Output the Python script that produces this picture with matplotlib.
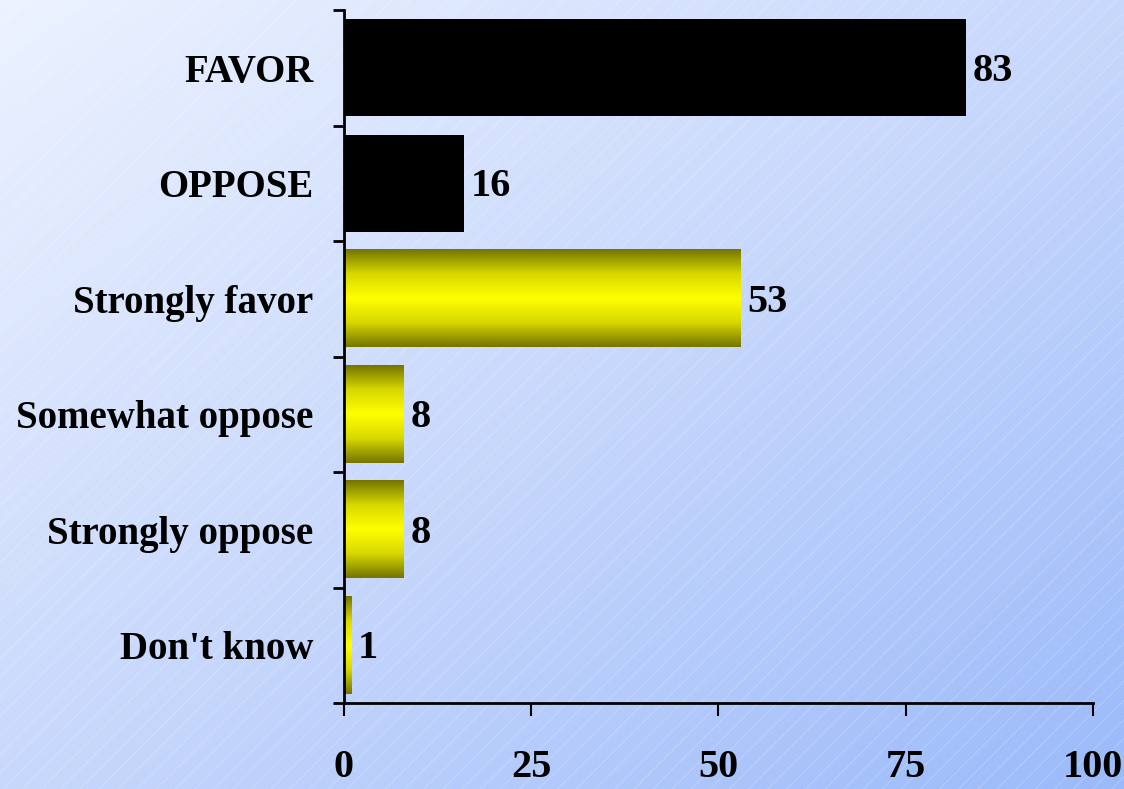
import numpy as np
import matplotlib
matplotlib.use("Agg")
import matplotlib.pyplot as plt
from matplotlib.colors import LinearSegmentedColormap

categories = ["FAVOR", "OPPOSE", "Strongly favor", "Somewhat oppose", "Strongly oppose", "Don't know"]
values = [83, 16, 53, 8, 8, 1]
solid = [True, True, False, False, False, False]
xticks = [0, 25, 50, 75, 100]

plt.rcParams['font.family'] = ['Liberation Serif', 'DejaVu Serif']
plt.rcParams['font.weight'] = 'bold'

fig = plt.figure(figsize=(11.24, 7.89), dpi=100)

# background gradient with faint diagonal stripes
bg = fig.add_axes([0, 0, 1, 1], zorder=-10)
bg.set_axis_off()
gx, gy = np.meshgrid(np.linspace(0, 1, 300), np.linspace(0, 1, 300))
t = (gx + gy) / 2
bg_cmap = LinearSegmentedColormap.from_list("bg", ["#ecf2ff", "#c8d8fc", "#9bbafa"])
bg.imshow(t, cmap=bg_cmap, extent=[0, 1, 0, 1], origin="upper", aspect="auto")
for k in np.arange(-1, 2, 0.017):
    bg.plot([k, k + 1], [0, 1.424], color="white", lw=0.6, alpha=0.25)
bg.set_xlim(0, 1)
bg.set_ylim(0, 1)

ax = fig.add_axes([0.306, 0.109, 0.6664, 0.8783])
ax.patch.set_alpha(0)

bar_cmap = LinearSegmentedColormap.from_list("bar", ["#767600", "#d8d800", "#ffff00", "#d8d800", "#767600"])
grad = np.linspace(0, 1, 100).reshape(-1, 1)
h = 0.84
for i, (v, s) in enumerate(zip(values, solid)):
    if s:
        ax.barh(i, v, height=h, color="black", zorder=2)
    else:
        ax.imshow(grad, cmap=bar_cmap, aspect="auto",
                  extent=[0, v, i + h / 2, i - h / 2], zorder=2)
    ax.text(v + 0.9, i + 0.03, str(v), va="center", ha="left",
            fontsize=29, fontweight="bold")

ax.set_xlim(0, 100)
ax.set_ylim(len(categories) - 0.5, -0.5)

ax.set_yticks(range(len(categories)))
ax.set_yticklabels(categories, fontsize=28, fontweight="bold")
ax.set_yticks(np.arange(-0.5, len(categories), 1), minor=True)
ax.tick_params(axis="y", which="major", length=0, pad=22)
ax.tick_params(axis="y", which="minor", length=8, width=2, direction="out")

ax.set_xticks(xticks)
ax.set_xticklabels([str(x) for x in xticks], fontsize=29, fontweight="bold")
ax.tick_params(axis="x", length=9, width=1.5, direction="out", pad=24)

for side in ["top", "right"]:
    ax.spines[side].set_visible(False)
ax.spines["left"].set_linewidth(2)
ax.spines["bottom"].set_linewidth(2)

fig.savefig("out.png", dpi=100)
